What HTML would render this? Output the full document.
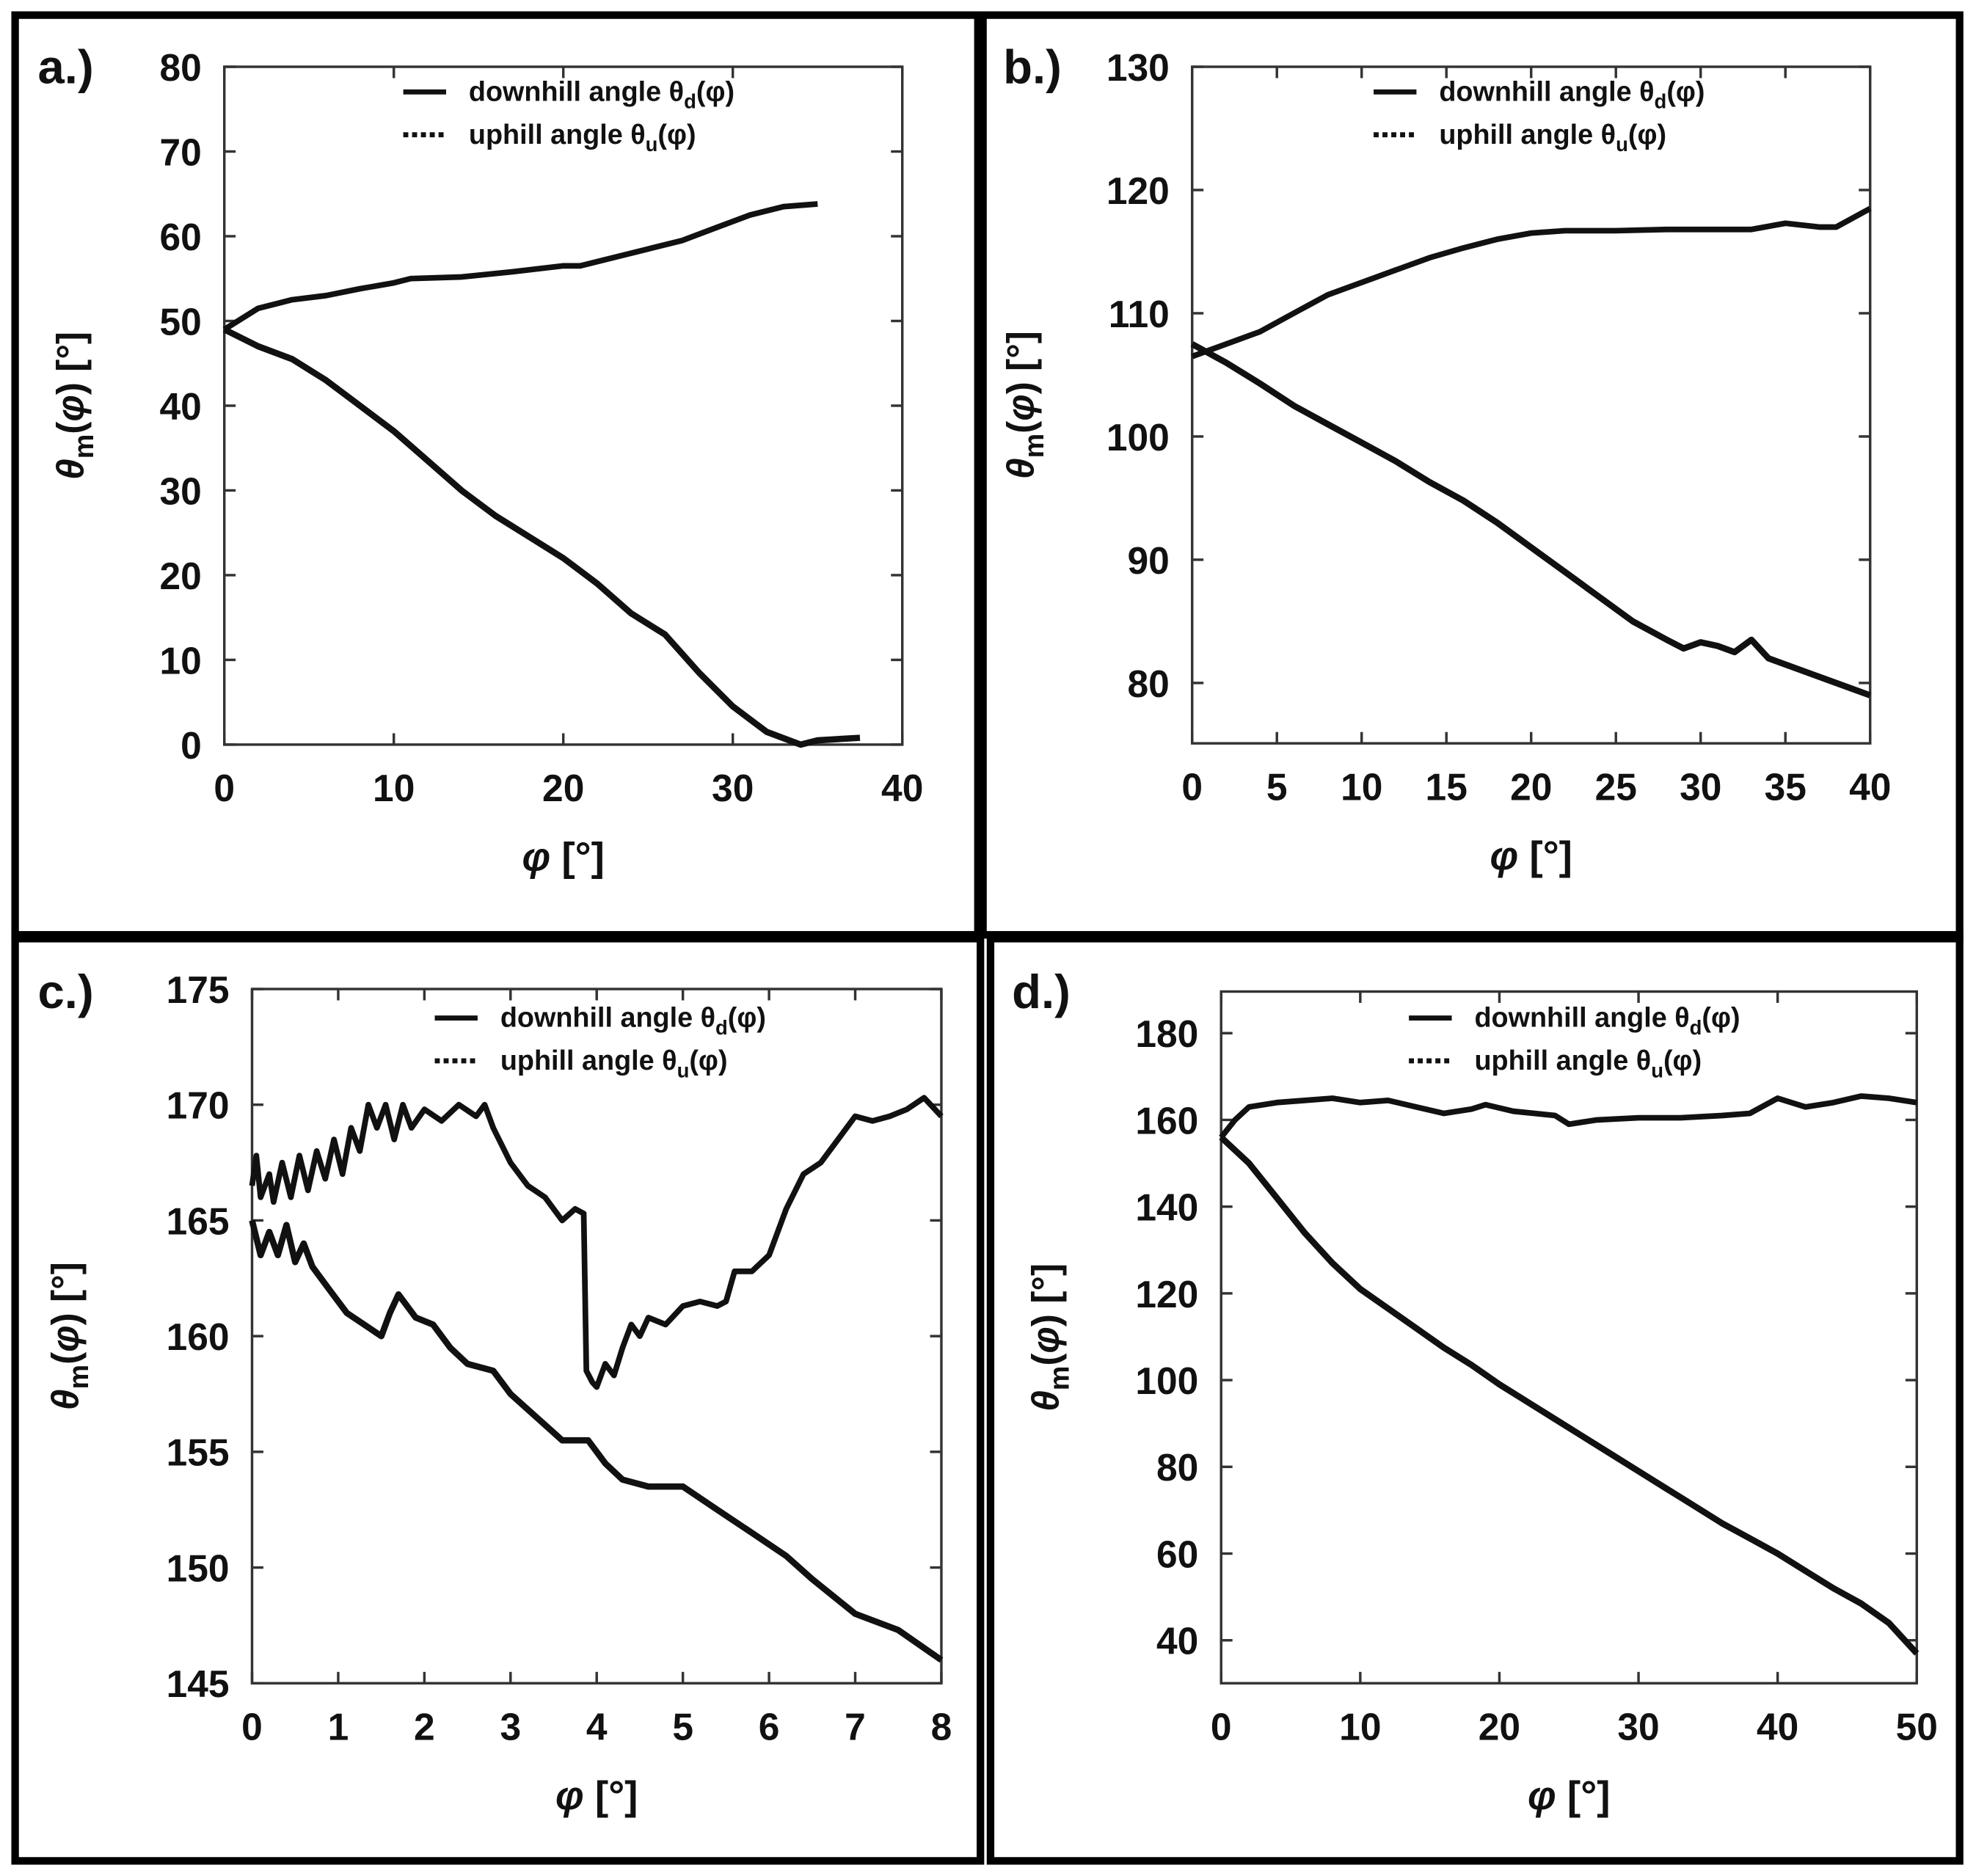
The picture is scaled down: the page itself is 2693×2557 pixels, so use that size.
<!DOCTYPE html>
<html><head><meta charset="utf-8"><style>
html,body{margin:0;padding:0;background:#fff}
svg{display:block}
text{font-family:"Liberation Sans",sans-serif;fill:#111}
</style></head><body>
<svg id="fig" width="2693" height="2557" viewBox="0 0 1568 1489" preserveAspectRatio="none" xmlns="http://www.w3.org/2000/svg">
<rect x="0" y="0" width="1568" height="1489" fill="#fff"/>
<g id="borders"></g>
<g id="panels"></g>
</svg>
<script>
// ---- panel a data ----
const aDownX=[0,2,4,6,8,10,11,14,17,20,21,23,25,27,29,31,33,35];
const aDownY=[49,51.5,52.5,53,53.8,54.5,55,55.2,55.8,56.5,56.5,57.5,58.5,59.5,61,62.5,63.5,63.8];
const aUpX=[0,2,4,6,8,10,12,14,16,18,20,22,24,26,28,30,32,34,35,37.5];
const aUpY=[49,47,45.5,43,40,37,33.5,30,27,24.5,22,19,15.5,13,8.5,4.5,1.5,0,0.5,0.8];
const aXTicks=[0,10,20,30,40];
const aYTicks=[0,10,20,30,40,50,60,70,80];
// ---- panel b data ----
const bDownX=[0,2,4,6,8,10,12,14,16,18,20,22,25,28,30,33,35,37,38,40];
const bDownY=[106.5,107.5,108.5,110,111.5,112.5,113.5,114.5,115.3,116,116.5,116.7,116.7,116.8,116.8,116.8,117.3,117,117,118.5];
const bUpX=[0,2,4,6,8,10,12,14,16,18,20,22,24,26,28,29,30,31,32,33,34,36,38,40];
const bUpY=[107.5,106,104.3,102.5,101,99.5,98,96.3,94.8,93,91,89,87,85,83.5,82.8,83.3,83,82.5,83.5,82,81,80,79];
const bXTicks=[0,5,10,15,20,25,30,35,40];
const bYTicks=[80,90,100,110,120,130];
// ---- panel c data ----
const cDownX=[0,0.05,0.1,0.2,0.25,0.35,0.45,0.55,0.65,0.75,0.85,0.95,1.05,1.15,1.25,1.35,1.45,1.55,1.65,1.75,1.85,2.0,2.2,2.4,2.6,2.7,2.8,3.0,3.2,3.4,3.6,3.75,3.85,3.88,3.95,4.0,4.1,4.2,4.3,4.4,4.5,4.6,4.8,5.0,5.2,5.4,5.5,5.6,5.8,6.0,6.2,6.4,6.6,6.8,7.0,7.2,7.4,7.6,7.8,8.0];
const cDownY=[166.5,167.8,166,167,165.8,167.5,166,167.8,166.3,168,166.8,168.5,167,169,168,170,169,170,168.5,170,169,169.8,169.3,170,169.5,170,169,167.5,166.5,166,165,165.5,165.3,158.5,158,157.8,158.8,158.3,159.5,160.5,160,160.8,160.5,161.3,161.5,161.3,161.5,162.8,162.8,163.5,165.5,167,167.5,168.5,169.5,169.3,169.5,169.8,170.3,169.5];
const cUpX=[0,0.1,0.2,0.3,0.4,0.5,0.6,0.7,0.9,1.1,1.3,1.5,1.6,1.7,1.9,2.1,2.3,2.5,2.8,3.0,3.3,3.6,3.9,4.1,4.3,4.6,5.0,5.4,5.8,6.0,6.2,6.5,7.0,7.5,8.0];
const cUpY=[165,163.5,164.5,163.5,164.8,163.2,164,163,162,161,160.5,160,161,161.8,160.8,160.5,159.5,158.8,158.5,157.5,156.5,155.5,155.5,154.5,153.8,153.5,153.5,152.5,151.5,151,150.5,149.5,148,147.3,146];
const cXTicks=[0,1,2,3,4,5,6,7,8];
const cYTicks=[145,150,155,160,165,170,175];
// ---- panel d data ----
const dDownX=[0,1,2,4,6,8,10,12,14,16,18,19,21,24,25,27,30,33,36,38,40,42,44,46,48,50];
const dDownY=[156,160,163,164,164.5,165,164,164.5,163,161.5,162.5,163.5,162,161,159,160,160.5,160.5,161,161.5,165,163,164,165.5,165,164];
const dUpX=[0,2,4,6,8,10,12,14,16,18,20,22,24,26,28,30,32,34,36,38,40,42,44,46,48,50];
const dUpY=[156,150,142,134,127,121,116.5,112,107.5,103.5,99,95,91,87,83,79,75,71,67,63.5,60,56,52,48.5,44,37];
const dXTicks=[0,10,20,30,40,50];
const dYTicks=[40,60,80,100,120,140,160,180];

const NS='http://www.w3.org/2000/svg';
function mk(tag,attrs,parent){const e=document.createElementNS(NS,tag);for(const k in attrs)e.setAttribute(k,attrs[k]);parent.appendChild(e);return e;}

const B=document.getElementById('borders');
[[12,12,764,730],[780,12,775,730],[12,745,766,732],[786,745,769,732]].forEach(r=>{
  const e=mk('rect',{x:r[0],y:r[1],width:r[2],height:r[3],fill:'none',stroke:'#000','stroke-width':6},B);
  
  
});

const panels=[
 {id:'a',label:'a.)',lx:30,ly:66,L:178,R:716,T:53,Bt:591,x0:0,x1:40,y0:0,y1:80,xt:aXTicks,yt:aYTicks,dX:aDownX,dY:aDownY,uX:aUpX,uY:aUpY,legX:320,legY:80,ylabX:66},
 {id:'b',label:'b.)',lx:796,ly:66,L:946,R:1484,T:53,Bt:590,x0:0,x1:40,y0:75.1,y1:130,xt:bXTicks,yt:bYTicks,dX:bDownX,dY:bDownY,uX:bUpX,uY:bUpY,legX:1090,legY:80,ylabX:820},
 {id:'c',label:'c.)',lx:30,ly:800,L:200,R:747,T:785,Bt:1336,x0:0,x1:8,y0:145,y1:175,xt:cXTicks,yt:cYTicks,dX:cDownX,dY:cDownY,uX:cUpX,uY:cUpY,legX:345,legY:815,ylabX:62},
 {id:'d',label:'d.)',lx:803,ly:800,L:969,R:1521,T:787,Bt:1336,x0:0,x1:50,y0:30.1,y1:189.6,xt:dXTicks,yt:dYTicks,dX:dDownX,dY:dDownY,uX:dUpX,uY:dUpY,legX:1118,legY:815,ylabX:840}
];
const P=document.getElementById('panels');
panels.forEach(p=>{
  const g=mk('g',{},P);
  
  
  const sx=v=>p.L+(v-p.x0)/(p.x1-p.x0)*(p.R-p.L);
  const sy=v=>p.Bt-(v-p.y0)/(p.y1-p.y0)*(p.Bt-p.T);
  const lab=mk('text',{x:p.lx,y:p.ly,'font-size':38,'font-weight':'bold'},g);lab.textContent=p.label;
  
  
  const fr=mk('rect',{x:p.L,y:p.T,width:p.R-p.L,height:p.Bt-p.T,fill:'none',stroke:'#333','stroke-width':2},g);
  
  
  p.xt.forEach(v=>{
    const x=sx(v);
    mk('line',{x1:x,y1:p.Bt,x2:x,y2:p.Bt-9,stroke:'#333','stroke-width':2},g);
    mk('line',{x1:x,y1:p.T,x2:x,y2:p.T+9,stroke:'#333','stroke-width':2},g);
    const t=mk('text',{x:x,y:p.Bt+45,'font-size':30,'font-weight':'bold','text-anchor':'middle'},g);t.textContent=v;
    
    
  });
  p.yt.forEach(v=>{
    const y=sy(v);
    mk('line',{x1:p.L,y1:y,x2:p.L+9,y2:y,stroke:'#333','stroke-width':2},g);
    mk('line',{x1:p.R,y1:y,x2:p.R-9,y2:y,stroke:'#333','stroke-width':2},g);
    const t=mk('text',{x:p.L-18,y:y+11,'font-size':30,'font-weight':'bold','text-anchor':'end'},g);t.textContent=v;
    
    
  });
  const xl=mk('text',{x:(p.L+p.R)/2,y:p.Bt+100,'font-size':32,'text-anchor':'middle','font-weight':'bold'},g);
  xl.innerHTML='<tspan font-style="italic">φ</tspan> [°]';
  
  
  const cy=(p.T+p.Bt)/2;
  const yl=mk('text',{x:0,y:0,'font-size':30,'text-anchor':'middle','font-weight':'bold',transform:`translate(${p.ylabX},${cy}) rotate(-90)`},g);
  yl.innerHTML='<tspan font-style="italic">θ</tspan><tspan font-size="22" dy="8">m</tspan><tspan dy="-8">(</tspan><tspan font-style="italic">φ</tspan>)  [°]';
  
  
  mk('line',{x1:p.legX,y1:p.legY-7,x2:p.legX+34,y2:p.legY-7,stroke:'#111','stroke-width':4},g);
  mk('line',{x1:p.legX,y1:p.legY+27,x2:p.legX+34,y2:p.legY+27,stroke:'#111','stroke-width':4,'stroke-dasharray':'4 3'},g);
  const l1=mk('text',{x:p.legX+52,y:p.legY,'font-size':22,'font-weight':'bold','fill':'#222'},g);
  l1.innerHTML='downhill angle θ<tspan font-size="16" dy="6">d</tspan><tspan dy="-6">(φ)</tspan>';
  
  
  const l2=mk('text',{x:p.legX+52,y:p.legY+34,'font-size':22,'font-weight':'bold','fill':'#222'},g);
  l2.innerHTML='uphill angle θ<tspan font-size="16" dy="6">u</tspan><tspan dy="-6">(φ)</tspan>';
  
  
  const pts=(X,Y)=>X.map((x,i)=>sx(x).toFixed(1)+','+sy(Y[i]).toFixed(1)).join(' ');
  const d=mk('polyline',{points:pts(p.dX,p.dY),fill:'none',stroke:'#111','stroke-width':4.5,'stroke-linejoin':'round'},g);
  
  
  const u=mk('polyline',{points:pts(p.uX,p.uY),fill:'none',stroke:'#111','stroke-width':5,'stroke-linejoin':'round'},g);
  
  
});
</script>
</body></html>
